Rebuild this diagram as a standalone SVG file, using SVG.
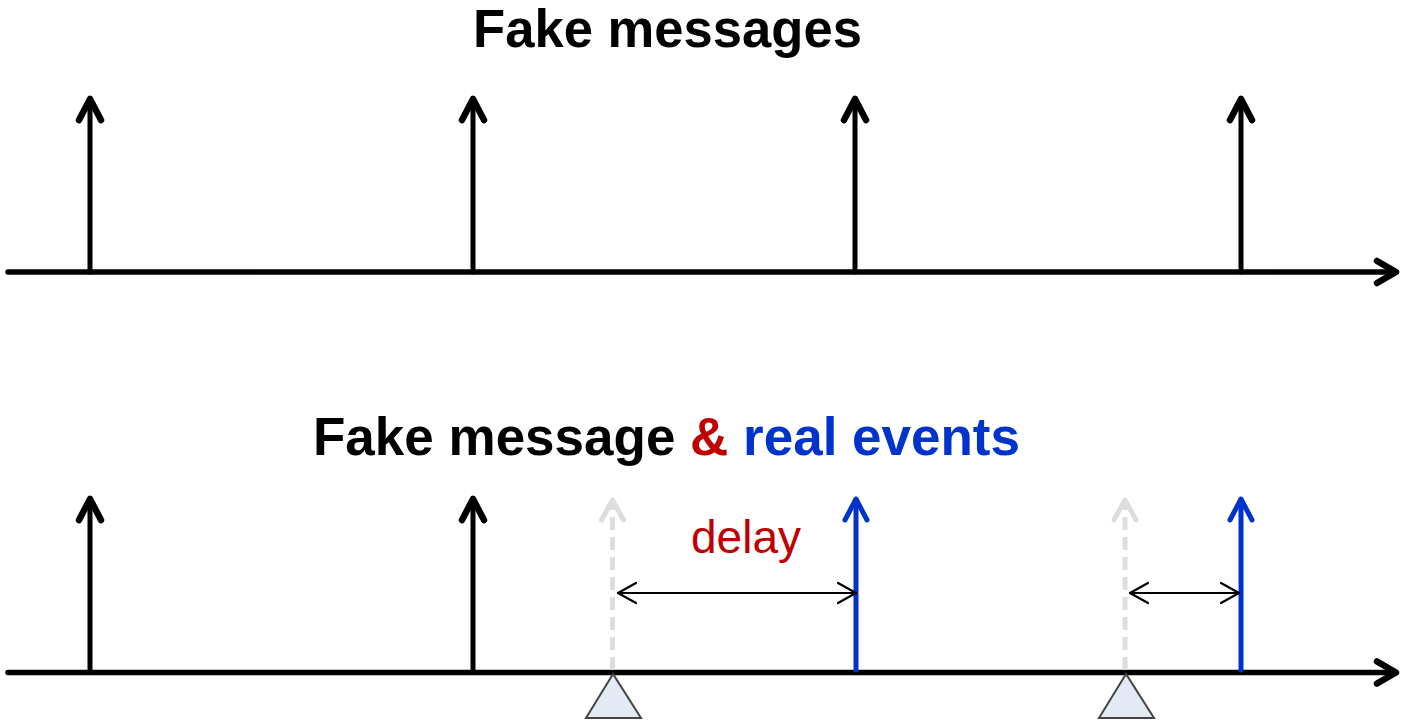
<svg xmlns="http://www.w3.org/2000/svg" width="1404" height="725" viewBox="0 0 1404 725">
<style>
.ax{stroke:#000;stroke-width:5.5;fill:none;stroke-linecap:round;stroke-linejoin:round}
.blk{stroke:#000;stroke-width:5;fill:none;stroke-linecap:round;stroke-linejoin:round}
.hd{stroke-width:6.5}
.blu{stroke:#0033CC;stroke-width:5;fill:none;stroke-linecap:round;stroke-linejoin:round}
.gry{stroke:#DDDDDD;stroke-width:5;fill:none;stroke-linecap:round;stroke-linejoin:round}
.dsh{stroke-dasharray:13 7;stroke-linecap:butt}
.dbl{stroke:#000;stroke-width:2.2;fill:none;stroke-linecap:round;stroke-linejoin:round}
.tri{fill:#E4EAF5;stroke:#444;stroke-width:2}
.title{font-family:"Liberation Sans",Arial,sans-serif;font-weight:bold;font-size:53px;text-anchor:middle}
</style>
<rect width="1404" height="725" fill="#fff"/>
<g id="titles">
<text class="title" x="667.5" y="47" fill="#000" textLength="389" lengthAdjust="spacingAndGlyphs">Fake messages</text>
<text class="title" x="666.5" y="455" textLength="707" lengthAdjust="spacingAndGlyphs"><tspan fill="#000">Fake message </tspan><tspan fill="#C00000">&amp;</tspan><tspan fill="#0033CC"> real events</tspan></text>
</g>
<g id="connectors">
<g id="axis-top">
<line class="ax" x1="8" y1="272" x2="1395" y2="272" stroke-linecap="butt"/>
<path class="ax hd" d="M1377,261 L1396,272 L1377,283"/>
</g>
<g id="axis-bottom">
<line class="ax" x1="8" y1="672.5" x2="1395" y2="672.5" stroke-linecap="butt"/>
<path class="ax hd" d="M1377,661.5 L1396,672.5 L1377,683.5"/>
</g>
</g>
<g id="fake-top">
<g id="ft1"><line class="blk" x1="90" y1="272" x2="90" y2="100" stroke-linecap="butt"/><path class="blk hd" d="M79,120 L90,99 L101,120"/></g>
<g id="ft2"><line class="blk" x1="473" y1="272" x2="473" y2="100" stroke-linecap="butt"/><path class="blk hd" d="M462,120 L473,99 L484,120"/></g>
<g id="ft3"><line class="blk" x1="855" y1="272" x2="855" y2="100" stroke-linecap="butt"/><path class="blk hd" d="M844,120 L855,99 L866,120"/></g>
<g id="ft4"><line class="blk" x1="1241" y1="272" x2="1241" y2="100" stroke-linecap="butt"/><path class="blk hd" d="M1230,120 L1241,99 L1252,120"/></g>
</g>
<g id="fake-bottom">
<g id="fb1"><line class="blk" x1="90" y1="672" x2="90" y2="500" stroke-linecap="butt"/><path class="blk hd" d="M79,520 L90,499 L101,520"/></g>
<g id="fb2"><line class="blk" x1="473" y1="672" x2="473" y2="500" stroke-linecap="butt"/><path class="blk hd" d="M462,520 L473,499 L484,520"/></g>
</g>
<g id="suppressed">
<g id="s1"><line class="gry dsh" x1="612.5" y1="670" x2="612.5" y2="502"/><path class="gry hd" d="M601.5,520 L612.5,500 L623.5,520"/></g>
<g id="s2"><line class="gry dsh" x1="1125" y1="670" x2="1125" y2="502"/><path class="gry hd" d="M1114,520 L1125,500 L1136,520"/></g>
</g>
<g id="real">
<g id="r1"><line class="blu" x1="856" y1="670" x2="856" y2="500" stroke-linecap="butt"/><path class="blu hd" d="M845,520 L856,499 L867,520"/></g>
<g id="r2"><line class="blu" x1="1241" y1="670" x2="1241" y2="500" stroke-linecap="butt"/><path class="blu hd" d="M1230,520 L1241,499 L1252,520"/></g>
</g>
<g id="delays">
<g id="d1"><line class="dbl" x1="618" y1="593" x2="856" y2="593"/><path class="dbl" d="M636,583 L618,593 L636,603 M838,583 L856,593 L838,603"/></g>
<g id="d2"><line class="dbl" x1="1130" y1="593" x2="1239" y2="593"/><path class="dbl" d="M1148,583 L1130,593 L1148,603 M1221,583 L1239,593 L1221,603"/></g>
<text x="746" y="553" fill="#C00000" font-family="Liberation Sans, Arial, sans-serif" font-size="46" text-anchor="middle">delay</text>
</g>
<g id="triggers">
<polygon id="t1" class="tri" points="613,674 586,718 641,718"/>
<polygon id="t2" class="tri" points="1126,674 1099,718 1154,718"/>
</g>
</svg>
